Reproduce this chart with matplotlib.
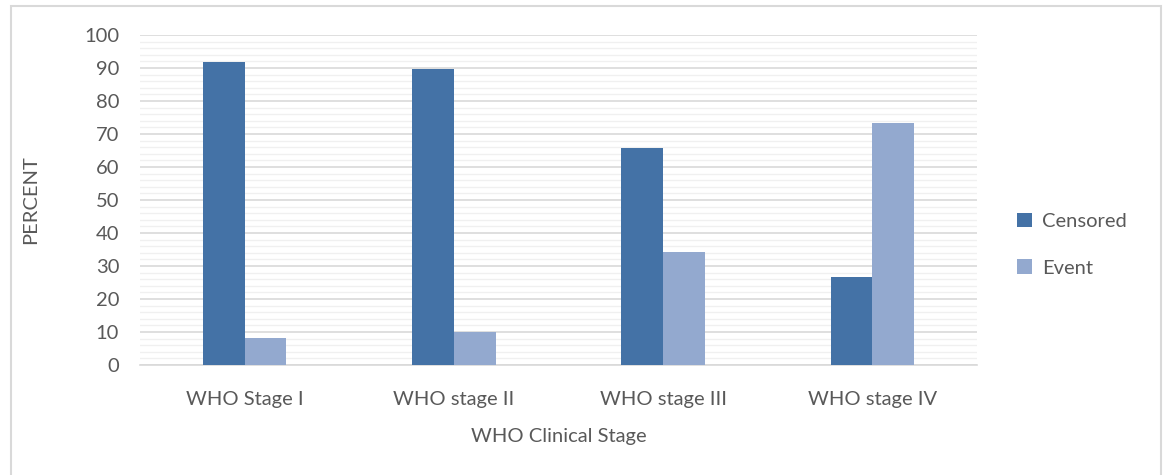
import matplotlib
matplotlib.use("Agg")
import matplotlib.pyplot as plt
import numpy as np
from matplotlib.patches import Rectangle

categories = ["WHO Stage I", "WHO stage II", "WHO stage III", "WHO stage IV"]
censored = [91.8, 89.8, 65.8, 26.7]
event = [8.2, 10.0, 34.1, 73.3]
series_names = ["Censored", "Event"]

plt.rcParams['font.family'] = ['Lato', 'DejaVu Sans']
txt = '#595959'
c1 = '#4472a6'
c2 = '#93a9cf'
fs = 14.5

fig = plt.figure(figsize=(11.63, 4.75), dpi=100)
fig.patches.append(Rectangle((11/1163, -0.1), 1150/1163, 1.1 - 6/475, transform=fig.transFigure,
                             fill=False, edgecolor='#d9d9d9', linewidth=1.5))
ax = fig.add_axes([140/1163, 1-365/475, 837/1163, 330/475])

x = np.arange(len(categories))
w = 0.2
ax.bar(x - w/2, censored, w, color=c1, label=series_names[0], zorder=3)
ax.bar(x + w/2, event, w, color=c2, label=series_names[1], zorder=3)

ax.set_xlim(-0.5, len(categories) - 0.5)
ax.set_ylim(0, 100)
ax.set_yticks(range(0, 101, 10))
ax.set_yticks(range(0, 101, 2), minor=True)
ax.grid(axis='y', which='major', color='#d9d9d9', linewidth=1.2, zorder=0)
ax.grid(axis='y', which='minor', color='#f0f0f0', linewidth=1.0, zorder=0)
ax.set_axisbelow(True)
for s in ['top', 'right', 'left']:
    ax.spines[s].set_visible(False)
ax.spines['bottom'].set_color('#d9d9d9')
ax.spines['bottom'].set_linewidth(1.2)
ax.tick_params(axis='both', which='both', length=0, colors=txt, labelsize=fs)
ax.tick_params(axis='y', pad=15)
ax.tick_params(axis='x', pad=19)
ax.set_xticks(x)
ax.set_xticklabels(categories)
ax.set_xlabel("WHO Clinical Stage", color=txt, fontsize=fs, labelpad=14)
ax.set_ylabel("PERCENT", color=txt, fontsize=fs, labelpad=32)

leg = ax.legend(loc='center left', bbox_to_anchor=(1.026, 0.365), frameon=False, fontsize=fs,
                labelcolor=txt, handlelength=0.75, handleheight=0.75, labelspacing=1.45, handletextpad=0.5)

fig.savefig("out.png", dpi=100)
